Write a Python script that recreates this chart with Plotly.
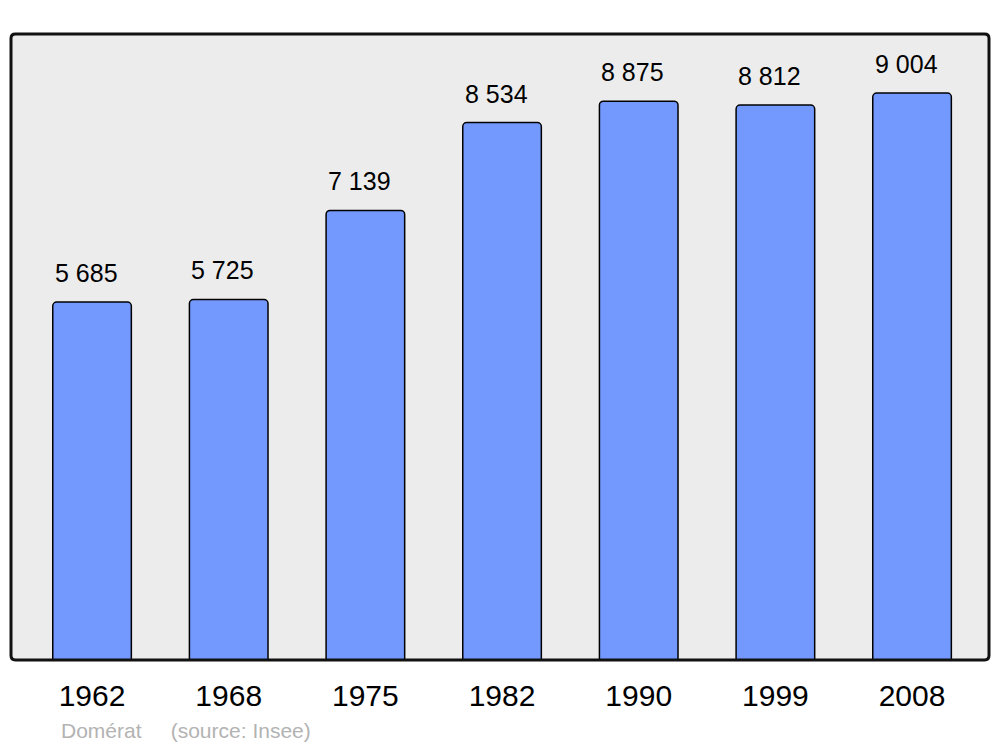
import plotly.graph_objects as go

annees = ["1962", "1968", "1975", "1982", "1990", "1999", "2008"]
population = [5685, 5725, 7139, 8534, 8875, 8812, 9004]
commune = "Domérat"
source = "(source: Insee)"

police = "Liberation Sans, Arial, sans-serif"

fig = go.Figure(
    go.Bar(
        x=annees, y=population,
        width=0.575,
        marker=dict(color="#7399FF", line=dict(color="#000000", width=1.5)),
        hoverinfo="x+y",
    )
)

# valeurs au-dessus des barres (x = rang de la catégorie, les années
# numériques seraient lues comme des positions)
for i, p in enumerate(population):
    fig.add_annotation(
        x=i, y=p, text=f"{p:,}".replace(",", " "),
        showarrow=False, yanchor="bottom", yshift=13, xshift=-6,
        font=dict(family=police, size=25, color="#000000"),
    )

fig.add_annotation(
    xref="paper", yref="paper", x=0.049, y=-0.112,
    xanchor="left", yanchor="middle", showarrow=False,
    text=f"{commune}&nbsp;&nbsp;&nbsp;&nbsp;&nbsp;{source}",
    font=dict(family=police, size=21, color="#B3B3B3"),
)

# cadre arrondi
rx, ry = 0.0045, 0.007
cadre = (
    f"M {rx},0 L {1-rx},0 Q 1,0 1,{ry} L 1,{1-ry} Q 1,1 {1-rx},1 "
    f"L {rx},1 Q 0,1 0,{1-ry} L 0,{ry} Q 0,0 {rx},0 Z"
)
fig.add_shape(type="path", xref="paper", yref="paper", path=cadre,
              line=dict(color="#111111", width=3), layer="above")

# la page html ajoute 8px de marge autour de la figure
fig.update_layout(
    width=984, height=739,
    margin=dict(l=3, r=3, t=26, b=87),
    paper_bgcolor="white", plot_bgcolor="#ECECEC",
    barcornerradius=4,
    showlegend=False,
    font=dict(family=police, color="#000000"),
)
fig.update_xaxes(
    type="category",
    range=[-0.593, 6.563], showgrid=False, zeroline=False, showline=False,
    ticks="", tickfont=dict(size=30, family=police), ticklabelstandoff=15,
)
fig.update_yaxes(
    range=[0, 9941], showgrid=False, zeroline=False, showline=False,
    showticklabels=False, ticks="",
)

fig.write_html("out.html")
